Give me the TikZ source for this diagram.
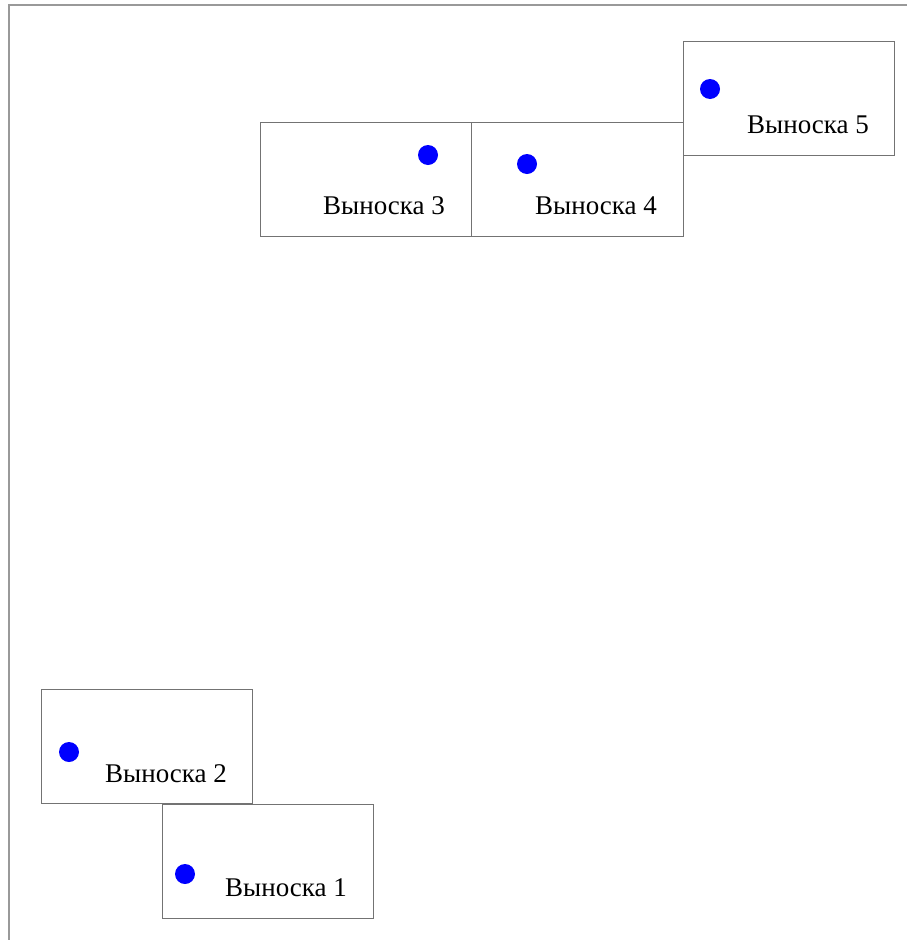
\documentclass[tikz,border=0pt]{standalone}
\usepackage{fontspec}
\setmainfont{Liberation Serif}
\begin{document}
\begin{tikzpicture}[x=1pt,y=-1pt,
  callbox/.style={draw=black!55,line width=0.9pt},
  dotmark/.style={fill=blue,draw=none},
  lbl/.style={anchor=base west,inner sep=0pt,font=\fontsize{27}{30}\selectfont}]
\useasboundingbox (0,0) rectangle (907,940);
\draw[black!40,line width=2pt] (9,940) -- (9,5) -- (907,5);
% boxes
\draw[callbox] (260,122) rectangle (471,236);
\draw[callbox] (471,122) rectangle (683,236);
\draw[callbox] (683,41) rectangle (894,155);
\draw[callbox] (41,689) rectangle (252,803);
\draw[callbox] (162,804) rectangle (373,918);
% dots
\fill[dotmark] (428,155) circle (10);
\fill[dotmark] (527,164) circle (10);
\fill[dotmark] (710,89) circle (10);
\fill[dotmark] (69,752) circle (10);
\fill[dotmark] (185,874) circle (10);
% labels
\node[lbl] (t3) at (323,214) {Выноска 3};
\node[lbl] (t4) at (535,214) {Выноска 4};
\node[lbl] (t5) at (747,133) {Выноска 5};
\node[lbl] (t2) at (105,782) {Выноска 2};
\node[lbl] (t1) at (225,896) {Выноска 1};
\end{tikzpicture}
\end{document}
